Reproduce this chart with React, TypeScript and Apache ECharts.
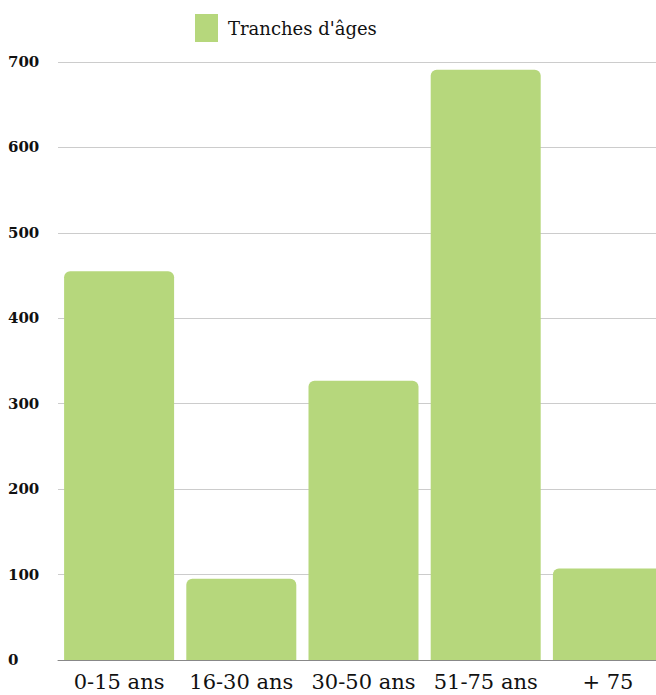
import React, { useEffect, useRef } from "react";
import * as echarts from "echarts";

const categories = ["0-15 ans", "16-30 ans", "30-50 ans", "51-75 ans", "+ 75"];
const values = [455, 95, 327, 691, 107];
const seriesName = "Tranches d'âges";
const yTicks = { min: 0, max: 700, interval: 100 };

export default function App() {
  const ref = useRef<HTMLDivElement>(null);
  useEffect(() => {
    document.body.style.margin = "0";
    const chart = echarts.init(ref.current!, null, { renderer: "svg" });
    const font = "'DejaVu Serif', 'Liberation Serif', serif";
    chart.setOption({
      animation: false,
      backgroundColor: "#ffffff",
      textStyle: { fontFamily: font },
      legend: {
        data: [seriesName],
        left: 190,
        top: 9,
        icon: "rect",
        itemWidth: 23,
        itemHeight: 28,
        textStyle: { fontFamily: font, fontSize: 18, color: "#111", padding: [0, 0, 0, 5] },
      },
      grid: { left: 58, top: 62, right: -13, bottom: 35, outerBoundsMode: "none", containLabel: false },
      xAxis: {
        type: "category",
        data: categories,
        axisLine: { show: true, lineStyle: { color: "#888", width: 1 } },
        axisTick: { show: false },
        axisLabel: { fontFamily: font, fontSize: 21, color: "#111", margin: 11, interval: 0 },
      },
      yAxis: {
        type: "value",
        min: yTicks.min,
        max: yTicks.max,
        interval: yTicks.interval,
        axisLine: { show: false },
        axisTick: { show: false },
        splitLine: { lineStyle: { color: "#cccccc", width: 1 } },
        axisLabel: {
          fontFamily: font,
          fontSize: 15,
          fontWeight: "bold",
          color: "#111",
          align: "left",
          margin: 50,
        },
      },
      series: [
        {
          name: seriesName,
          type: "bar",
          data: values,
          barWidth: 110,
          itemStyle: { color: "#b6d77c", borderRadius: [6, 6, 0, 0] },
        },
      ],
    });
    return () => chart.dispose();
  }, []);
  return <div ref={ref} style={{ width: 656, height: 695 }} />;
}
